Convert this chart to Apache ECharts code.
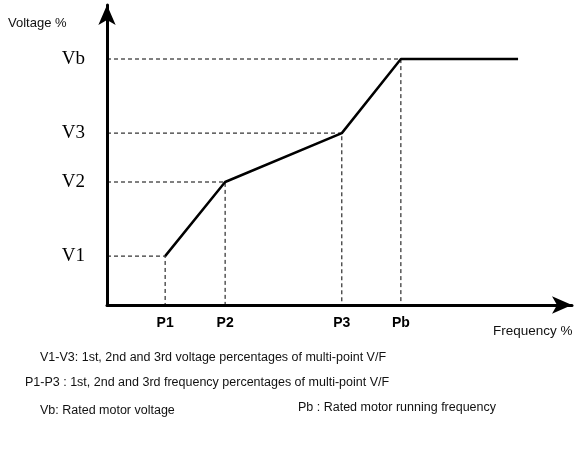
<!DOCTYPE html>
<html><head><meta charset="utf-8">
<script src="https://cdn.jsdelivr.net/npm/echarts@6/dist/echarts.min.js"></script>
<style>html,body{margin:0;padding:0;background:#fff}#c{width:574px;height:449px}</style>
</head><body><div id="c"></div>
<script>
var freqLabels = ['P1', 'P2', 'P3', 'Pb'];
var freqValues = [12.5, 25.4, 50.5, 63.2];
var voltLabels = ['V1', 'V2', 'V3', 'Vb'];
var voltValues = [16.3, 41, 57.3, 82];
var curveEndFreq = 88.4;
var notes = [
  'V1-V3: 1st, 2nd and 3rd voltage percentages of multi-point V/F',
  'P1-P3 : 1st, 2nd and 3rd frequency percentages of multi-point V/F',
  'Vb: Rated motor voltage',
  'Pb : Rated motor running frequency'
];

var curve = freqValues.map(function (f, i) { return [f, voltValues[i]]; });
curve.push([curveEndFreq, voltValues[voltValues.length - 1]]);

var guides = freqValues.map(function (f, i) {
  return {
    type: 'line', silent: true, symbol: 'none', z: 1,
    lineStyle: { color: '#000', width: 1, type: [4, 3] },
    data: [[0, voltValues[i]], [f, voltValues[i]], [f, 0]]
  };
});

function txt(size) {
  return { fontFamily: 'Liberation Sans', fontSize: size, fontWeight: 'normal', color: '#111' };
}

var chart = echarts.init(document.getElementById('c'), null, { renderer: 'canvas' });
chart.setOption({
  animation: false,
  backgroundColor: '#fff',
  grid: { left: 107, right: 2, top: 5, bottom: 144 },
  xAxis: {
    type: 'value', min: 0, max: 100,
    splitLine: { show: false },
    axisLine: { lineStyle: { color: '#000', width: 3 }, symbol: ['none', 'arrow'], symbolSize: [13, 20] },
    axisTick: { show: false },
    axisLabel: {
      customValues: freqValues,
      formatter: function (v) { var i = freqValues.indexOf(v); return i >= 0 ? freqLabels[i] : ''; },
      color: '#000', fontFamily: 'Liberation Sans', fontWeight: 'bold', fontSize: 14, margin: 11
    }
  },
  yAxis: {
    type: 'value', min: 0, max: 100,
    splitLine: { show: false },
    axisLine: { lineStyle: { color: '#000', width: 3 }, symbol: ['none', 'arrow'], symbolSize: [13, 20] },
    axisTick: { show: false },
    axisLabel: {
      customValues: voltValues,
      formatter: function (v) { var i = voltValues.indexOf(v); return i >= 0 ? voltLabels[i] : ''; },
      color: '#000', fontFamily: 'Liberation Serif', fontSize: 19, margin: 22
    }
  },
  title: [
    { text: 'Voltage %', left: 3, top: 12, textStyle: txt(13) },
    { text: 'Frequency %', left: 488, top: 319, textStyle: txt(13.5) },
    { text: notes[0], left: 35, top: 346, textStyle: txt(12.5) },
    { text: notes[1], left: 20, top: 371, textStyle: txt(12.5) },
    { text: notes[2], left: 35, top: 399, textStyle: txt(12.5) },
    { text: notes[3], left: 293, top: 396, textStyle: txt(12.5) }
  ],
  series: guides.concat([{
    type: 'line', silent: true, symbol: 'none', z: 3,
    lineStyle: { color: '#000', width: 2.5 },
    data: curve
  }])
});
</script></body></html>
